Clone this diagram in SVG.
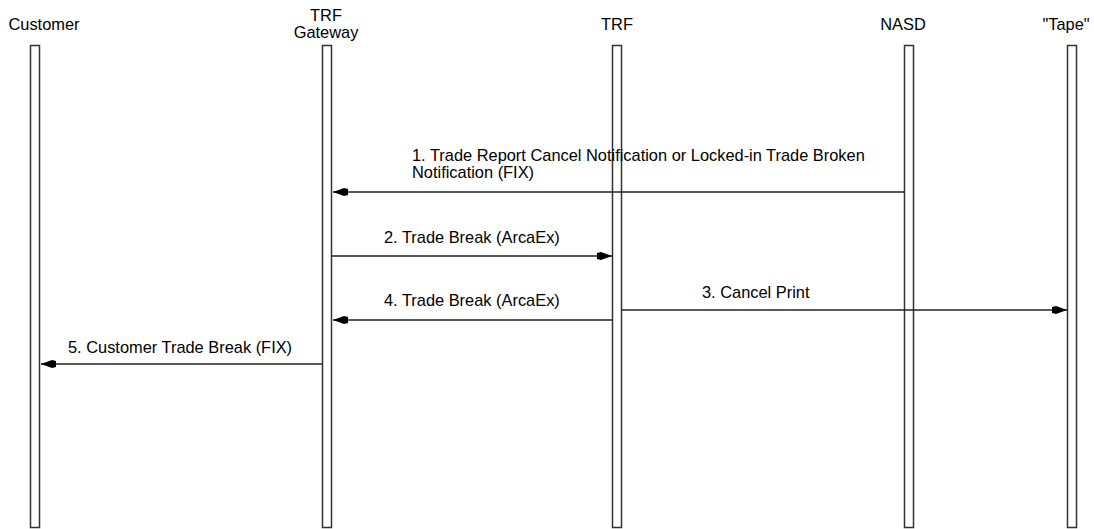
<svg xmlns="http://www.w3.org/2000/svg" width="1094" height="529" viewBox="0 0 1094 529">
<style>
text{font-family:"Liberation Sans",Arial,sans-serif;font-size:16.4px;fill:#000}
.life{fill:#fff;stroke:#333;stroke-width:1.5}
.msg{stroke:#222;stroke-width:1.5;fill:none;marker-end:url(#ah)}
.c{text-anchor:middle}
</style>
<defs>
<marker id="ah" markerUnits="userSpaceOnUse" markerWidth="16" markerHeight="10" refX="15" refY="5" orient="auto">
<path d="M0,2 L4,1 L15,5 L4,9 L0,8 Z" fill="#000"/>
</marker>
</defs>
<rect width="1094" height="529" fill="#fff"/>
<g id="customer">
<text class="c" x="44" y="30">Customer</text>
<rect class="life" x="30.5" y="45.5" width="9" height="482"/>
</g>
<g id="trf-gateway">
<text class="c" x="326" y="21">TRF</text>
<text class="c" x="326" y="38">Gateway</text>
<rect class="life" x="322.5" y="45.5" width="9" height="482"/>
</g>
<g id="trf">
<text class="c" x="617" y="30">TRF</text>
<rect class="life" x="612.5" y="45.5" width="9" height="482"/>
</g>
<g id="nasd">
<text class="c" x="903" y="30">NASD</text>
<rect class="life" x="904.5" y="45.5" width="9" height="482"/>
</g>
<g id="tape">
<text class="c" x="1066" y="30">"Tape"</text>
<rect class="life" x="1067.5" y="45.5" width="9" height="482"/>
</g>
<g id="connectors">
<line class="msg" x1="904" y1="192" x2="333" y2="192"/>
<text x="412" y="161">1. Trade Report Cancel Notification or Locked-in Trade Broken</text>
<text x="412" y="178">Notification (FIX)</text>
<line class="msg" x1="332" y1="256" x2="612" y2="256"/>
<text x="384" y="243">2. Trade Break (ArcaEx)</text>
<line class="msg" x1="622" y1="310" x2="1067" y2="310"/>
<text x="702" y="298">3. Cancel Print</text>
<line class="msg" x1="612" y1="320" x2="333" y2="320"/>
<text x="384" y="306">4. Trade Break (ArcaEx)</text>
<line class="msg" x1="322" y1="364" x2="41" y2="364"/>
<text x="68" y="353">5. Customer Trade Break (FIX)</text>
</g>
</svg>
